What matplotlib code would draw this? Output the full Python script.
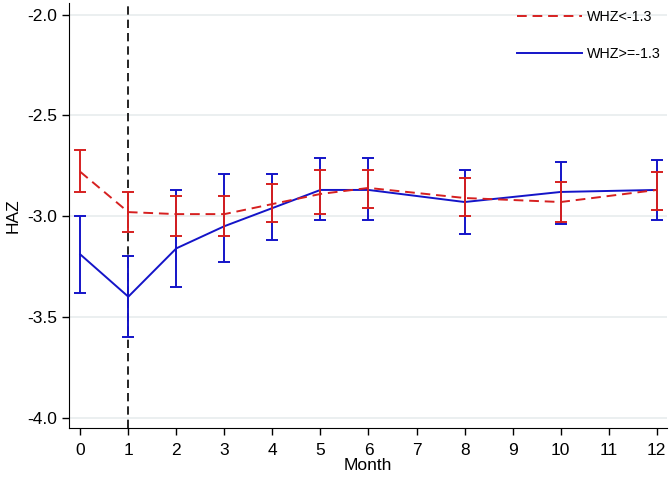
import matplotlib
matplotlib.use("Agg")
import matplotlib.pyplot as plt
import numpy as np

plt.rcParams['font.family'] = ['Liberation Sans', 'DejaVu Sans']

months = [0, 1, 2, 3, 4, 5, 6, 8, 10, 12]

# WHZ<-1.3
low_mean = [-2.78, -2.98, -2.99, -2.99, -2.94, -2.89, -2.86, -2.91, -2.93, -2.87]
low_upper = [-2.67, -2.88, -2.90, -2.90, -2.84, -2.77, -2.77, -2.81, -2.83, -2.78]
low_lower = [-2.88, -3.08, -3.10, -3.10, -3.03, -2.99, -2.96, -3.00, -3.03, -2.97]

# WHZ>=-1.3
high_mean = [-3.19, -3.40, -3.16, -3.05, -2.96, -2.87, -2.87, -2.93, -2.88, -2.87]
high_upper = [-3.00, -3.20, -2.87, -2.79, -2.79, -2.71, -2.71, -2.77, -2.73, -2.72]
high_lower = [-3.38, -3.60, -3.35, -3.23, -3.12, -3.02, -3.02, -3.09, -3.04, -3.02]

red = '#d62020'
blue = '#1414c8'

fig = plt.figure(figsize=(6.72, 4.8), dpi=100)
ax = fig.add_axes([0.103, 0.1083, 0.89, 0.8854])

for y in [-2.0, -2.5, -3.0, -3.5, -4.0]:
    ax.axhline(y, color='#e8ecee', lw=1.2, zorder=0)

ax.axvline(1, color='black', ls=(0, (5, 3)), lw=1.2, zorder=1)

m = np.array(months)
lm = np.array(low_mean)
hm = np.array(high_mean)
ax.errorbar(m, lm, yerr=[lm - np.array(low_lower), np.array(low_upper) - lm],
            color=red, ls=(0, (5, 3)), lw=1.4, capsize=4, elinewidth=1.4,
            capthick=1.4, label='WHZ<-1.3', zorder=3)
ax.errorbar(m, hm, yerr=[hm - np.array(high_lower), np.array(high_upper) - hm],
            color=blue, ls='-', lw=1.4, capsize=4, elinewidth=1.4,
            capthick=1.4, label='WHZ>=-1.3', zorder=2)

ax.set_xlim(-0.23, 12.22)
ax.set_ylim(-4.052, -1.942)
ax.set_xticks(range(13))
ax.set_yticks([-2.0, -2.5, -3.0, -3.5, -4.0])
ax.set_yticklabels(['-2.0', '-2.5', '-3.0', '-3.5', '-4.0'])
ax.tick_params(labelsize=12.5, length=5, width=1)
ax.tick_params(axis='x', pad=6)
ax.set_xlabel('Month', fontsize=12.5, labelpad=0)
ax.set_ylabel('HAZ', fontsize=12.5, labelpad=5)
ax.spines['top'].set_visible(False)
ax.spines['right'].set_visible(False)

h, l = ax.get_legend_handles_labels()
h = [hh[0] for hh in h]
ax.legend(h, l, loc='upper right', frameon=False, fontsize=10.3,
          handlelength=4.6, handletextpad=0.35, labelspacing=1.65,
          bbox_to_anchor=(667 / 672, 1.0 - 4 / 480),
          bbox_transform=fig.transFigure, borderaxespad=0)

fig.savefig('out.png', dpi=100)
